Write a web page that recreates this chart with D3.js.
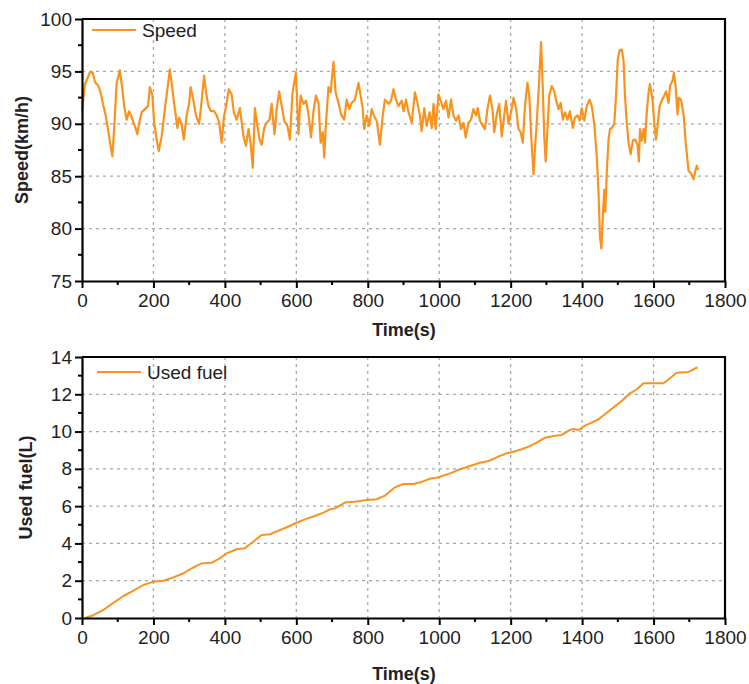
<!DOCTYPE html>
<html>
<head>
<meta charset="utf-8">
<script src="https://cdn.jsdelivr.net/npm/d3@7"></script>
<style>
  body { margin: 0; background: #fff; }
  text { font-family: "Liberation Sans", Arial, sans-serif; fill: #222; }
</style>
</head>
<body>
<div id="chart"></div>
<script>
// Speed trace (s, km/h)
const speedTime = [0, 8, 22, 30, 36, 46, 52, 60, 67, 74, 80, 85, 90, 97, 106, 113, 118, 125, 132, 139,
  148, 155, 160, 167, 176, 185, 190, 197, 202, 209, 215, 223, 232, 239, 246, 253, 260, 267, 272, 279,
  285, 293, 300, 304, 312, 319, 328, 335, 342, 347, 354, 361, 370, 377, 384, 391, 397, 405, 411, 419,
  425, 433, 442, 452, 459, 466, 472, 478, 484, 491, 497, 503, 510, 517, 525, 531, 539, 545, 552, 559,
  566, 575, 582, 589, 594, 599, 606, 612, 620, 627, 634, 641, 648, 655, 662, 668, 674, 678, 683, 690,
  696, 704, 710, 718, 725, 734, 741, 748, 755, 764, 774, 780, 786, 790, 797, 804, 811, 817, 825, 834,
  842, 848, 858, 865, 872, 879, 886, 895, 900, 907, 914, 923, 932, 939, 946, 951, 958, 965, 973, 979,
  984, 990, 998, 1004, 1012, 1019, 1026, 1033, 1040, 1047, 1054, 1061, 1068, 1074, 1082, 1089, 1096, 1103, 1108, 1114,
  1122, 1128, 1135, 1142, 1149, 1154, 1161, 1168, 1175, 1182, 1187, 1194, 1201, 1208, 1215, 1222, 1228, 1234, 1240, 1247,
  1252, 1259, 1264, 1268, 1273, 1280, 1285, 1290, 1294, 1298, 1303, 1308, 1315, 1322, 1327, 1334, 1340, 1346, 1352, 1359,
  1366, 1374, 1380, 1387, 1393, 1399, 1406, 1413, 1421, 1427, 1434, 1441, 1446, 1450, 1454, 1458, 1462, 1465, 1469, 1474,
  1478, 1483, 1490, 1495, 1500, 1505, 1511, 1516, 1520, 1525, 1530, 1536, 1542, 1548, 1555, 1559, 1562, 1567, 1572, 1576,
  1581, 1586, 1590, 1597, 1602, 1607, 1612, 1617, 1623, 1630, 1635, 1642, 1646, 1653, 1657, 1662, 1667, 1671, 1677, 1684,
  1690, 1698, 1704, 1712, 1717, 1721, 1725];
const speedValue = [91.2, 93.7, 94.9, 94.9, 94.0, 93.6, 93.0, 91.7, 90.7, 89.2, 87.9, 86.9, 89.5, 93.9, 95.1, 93.3, 91.7, 90.4, 91.2, 90.6,
  89.8, 89.0, 90.1, 91.1, 91.4, 91.7, 93.5, 92.7, 90.1, 88.5, 87.4, 88.8, 91.4, 93.3, 95.2, 93.3, 91.4, 89.6, 90.6, 89.9,
  88.5, 90.8, 92.0, 93.5, 92.2, 90.8, 90.0, 92.2, 94.6, 93.0, 91.7, 91.2, 91.2, 90.8, 90.1, 88.2, 90.6, 92.0, 93.3, 92.8,
  91.1, 90.4, 91.5, 88.8, 87.9, 89.5, 88.2, 85.8, 91.5, 89.8, 88.5, 88.0, 89.6, 90.1, 90.4, 91.9, 89.0, 91.4, 93.1, 91.7,
  90.3, 89.8, 88.5, 92.8, 93.9, 94.9, 89.0, 92.7, 91.9, 92.2, 90.9, 88.7, 91.2, 92.7, 92.0, 88.2, 89.2, 86.8, 90.1, 93.5,
  93.0, 95.9, 93.0, 92.0, 90.9, 90.4, 92.3, 91.4, 92.0, 92.3, 93.9, 92.7, 91.4, 89.5, 90.8, 89.8, 91.4, 90.8, 90.3, 88.0,
  90.8, 92.3, 91.9, 92.2, 93.3, 92.3, 91.7, 92.2, 91.2, 92.3, 91.1, 90.1, 93.0, 92.0, 90.8, 89.3, 91.5, 89.8, 91.1, 89.6,
  91.9, 89.5, 92.8, 92.2, 91.4, 92.2, 90.6, 92.3, 90.8, 90.3, 90.8, 89.5, 90.1, 88.7, 90.1, 90.4, 91.4, 90.8, 91.5, 90.3,
  89.8, 89.5, 91.4, 92.7, 91.4, 89.2, 90.9, 91.9, 88.8, 90.8, 92.2, 90.0, 91.1, 92.5, 91.5, 89.5, 89.2, 88.2, 91.7, 93.9,
  92.7, 87.9, 85.2, 87.6, 90.1, 94.3, 97.8, 93.3, 88.8, 86.4, 89.5, 92.7, 93.6, 93.1, 92.3, 91.4, 92.0, 90.4, 91.1, 90.4,
  91.2, 89.6, 90.6, 90.8, 90.3, 91.5, 90.3, 91.7, 92.3, 91.7, 90.0, 86.9, 83.4, 79.2, 78.1, 81.1, 83.7, 81.6, 85.3, 88.5,
  89.5, 89.6, 90.0, 92.7, 96.2, 97.0, 97.1, 96.0, 92.7, 90.1, 88.2, 87.1, 88.4, 88.5, 88.0, 86.4, 89.5, 88.4, 89.5, 88.2,
  91.1, 93.0, 93.8, 92.3, 90.1, 88.5, 90.1, 91.7, 92.2, 92.7, 93.1, 92.0, 93.6, 94.1, 94.9, 93.5, 90.9, 92.5, 92.3, 90.9,
  88.2, 85.5, 85.3, 84.7, 85.5, 86.0, 85.6];

// Cumulative used fuel (s, L)
const fuelTime = [8, 32, 60, 88, 116, 144, 172, 200, 228, 256, 284, 307, 335, 363, 386, 405, 433, 456, 480, 503,
  526, 550, 573, 601, 624, 652, 676, 694, 708, 736, 764, 797, 825, 848, 876, 900, 928, 951, 974, 998,
  1030, 1058, 1086, 1114, 1138, 1161, 1189, 1208, 1231, 1250, 1273, 1296, 1320, 1343, 1366, 1376, 1390, 1408, 1427, 1446,
  1469, 1497, 1516, 1534, 1553, 1572, 1600, 1628, 1646, 1665, 1698, 1723];
const fuelValue = [0, 0.15, 0.43, 0.82, 1.18, 1.47, 1.77, 1.95, 2.0, 2.18, 2.4, 2.66, 2.93, 2.97, 3.2, 3.47, 3.69, 3.74, 4.1, 4.45,
  4.49, 4.68, 4.87, 5.11, 5.29, 5.47, 5.65, 5.83, 5.88, 6.19, 6.24, 6.33, 6.37, 6.56, 7.01, 7.19, 7.19, 7.3, 7.47, 7.55,
  7.76, 7.98, 8.15, 8.33, 8.42, 8.62, 8.84, 8.92, 9.05, 9.19, 9.41, 9.67, 9.76, 9.82, 10.09, 10.14, 10.09, 10.32, 10.48, 10.66,
  11.01, 11.43, 11.73, 12.05, 12.27, 12.59, 12.59, 12.59, 12.86, 13.16, 13.2, 13.45];

const timeTicks = [0, 200, 400, 600, 800, 1000, 1200, 1400, 1600, 1800];
const speedTicks = [75, 80, 85, 90, 95, 100];
const fuelTicks = [0, 2, 4, 6, 8, 10, 12, 14];

const W = 749, H = 684;
const orange = '#f7931e';
const left = 82, right = 725;

const svg = d3.select('#chart').append('svg')
  .attr('width', W)
  .attr('height', H);

function panel(opts) {
  const x = d3.scaleLinear().domain([0, 1800]).range([left, right]);
  const y = d3.scaleLinear().domain(opts.yDomain).range([opts.bottom, opts.top]);
  const g = svg.append('g');

  // dotted grid
  g.selectAll('.vgrid')
    .data(timeTicks.filter(t => t > 0 && t < 1800))
    .enter().append('line')
      .attr('x1', d => x(d)).attr('x2', d => x(d))
      .attr('y1', opts.top).attr('y2', opts.bottom)
      .attr('stroke', '#a8a8a8').attr('stroke-width', 1.3)
      .attr('stroke-dasharray', '3,4');
  g.selectAll('.hgrid')
    .data(opts.yTicks.filter(v => v > opts.yDomain[0] && v < opts.yDomain[1]))
    .enter().append('line')
      .attr('x1', left).attr('x2', right)
      .attr('y1', d => y(d)).attr('y2', d => y(d))
      .attr('stroke', '#a8a8a8').attr('stroke-width', 1.3)
      .attr('stroke-dasharray', '3,4');

  // data line
  const pts = opts.xs.map((t, i) => [t, opts.ys[i]]);
  g.append('path')
    .datum(pts)
    .attr('fill', 'none')
    .attr('stroke', orange)
    .attr('stroke-width', opts.lineWidth)
    .attr('stroke-linejoin', 'round')
    .attr('d', d3.line().x(d => x(d[0])).y(d => y(d[1])));

  // minor ticks
  const xMinor = d3.range(100, 1800, 200);
  g.selectAll('.xminor').data(xMinor).enter().append('line')
    .attr('x1', d => x(d)).attr('x2', d => x(d))
    .attr('y1', opts.bottom).attr('y2', opts.bottom + 4)
    .attr('stroke', '#000').attr('stroke-width', 2);
  const step = opts.yTicks[1] - opts.yTicks[0];
  const yMinor = opts.yTicks.slice(0, -1).map(v => v + step / 2);
  g.selectAll('.yminor').data(yMinor).enter().append('line')
    .attr('x1', left - 4).attr('x2', left)
    .attr('y1', d => y(d)).attr('y2', d => y(d))
    .attr('stroke', '#000').attr('stroke-width', 2);

  // axes
  const xAxis = g.append('g')
    .attr('transform', `translate(0,${opts.bottom})`)
    .call(d3.axisBottom(x).tickValues(timeTicks).tickFormat(d3.format('d'))
      .tickSize(7).tickPadding(6).tickSizeOuter(0));
  const yAxis = g.append('g')
    .attr('transform', `translate(${left},0)`)
    .call(d3.axisLeft(y).tickValues(opts.yTicks).tickFormat(d3.format('d'))
      .tickSize(7).tickPadding(3).tickSizeOuter(0));
  [xAxis, yAxis].forEach(a => {
    a.select('.domain').attr('stroke', '#000').attr('stroke-width', 2.2);
    a.selectAll('.tick line').attr('stroke', '#000').attr('stroke-width', 2);
    a.selectAll('.tick text').attr('font-size', 19).attr('fill', '#222')
      .attr('font-family', '"Liberation Sans", Arial, sans-serif');
  });

  // top and right frame
  g.append('path')
    .attr('d', `M${left},${opts.top}H${right}V${opts.bottom}`)
    .attr('fill', 'none').attr('stroke', '#000').attr('stroke-width', 2.2);

  // legend
  g.append('line')
    .attr('x1', opts.legX).attr('x2', opts.legX + 44)
    .attr('y1', opts.legY).attr('y2', opts.legY)
    .attr('stroke', orange).attr('stroke-width', 2);
  g.append('text')
    .attr('x', opts.legX + 50).attr('y', opts.legY + 7)
    .attr('font-size', 19)
    .text(opts.name);

  // axis titles
  g.append('text')
    .attr('x', 404).attr('y', opts.xTitleY)
    .attr('text-anchor', 'middle')
    .attr('font-size', 18).attr('font-weight', 'bold')
    .text('Time(s)');
  g.append('text')
    .attr('transform', `translate(${opts.yTitleX},${(opts.top + opts.bottom) / 2}) rotate(-90)`)
    .attr('text-anchor', 'middle')
    .attr('font-size', 18).attr('font-weight', 'bold')
    .text(opts.yTitle);
}

panel({
  top: 19, bottom: 281, yDomain: [75, 100], yTicks: speedTicks,
  xs: speedTime, ys: speedValue, name: 'Speed', lineWidth: 2.2,
  legX: 92, legY: 30, xTitleY: 336, yTitleX: 28, yTitle: 'Speed(km/h)'
});

panel({
  top: 357, bottom: 618, yDomain: [0, 14], yTicks: fuelTicks,
  xs: fuelTime, ys: fuelValue, name: 'Used fuel', lineWidth: 2,
  legX: 97, legY: 372, xTitleY: 680, yTitleX: 32, yTitle: 'Used fuel(L)'
});
</script>
</body>
</html>
